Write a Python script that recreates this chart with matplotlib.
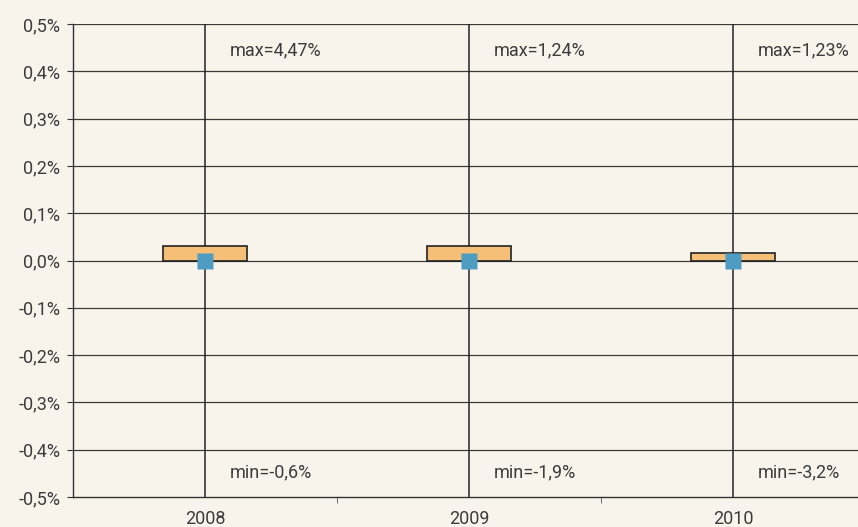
import matplotlib.pyplot as plt
from matplotlib.ticker import FuncFormatter, FixedLocator

# yearly spread stats, in percent
years = ["2008", "2009", "2010"]
bar_vals = [0.03, 0.03, 0.015]
mean_vals = [0.0, 0.0, 0.0]
max_vals = [4.47, 1.24, 1.23]
min_vals = [-0.6, -1.9, -3.2]
max_labels = ["max=4,47%", "max=1,24%", "max=1,23%"]
min_labels = ["min=-0,6%", "min=-1,9%", "min=-3,2%"]

bg = "#f8f4ec"
txt = "#3c3c3c"
plt.rcParams['font.family'] = ['Roboto', 'DejaVu Sans']

fig = plt.figure(figsize=(8.58, 5.27), dpi=100, facecolor=bg)
ax = fig.add_axes([73 / 858, 30 / 527, 792 / 858, 473 / 527])
ax.set_facecolor(bg)

x = list(range(len(years)))

# horizontal grid
for v in [i / 10 for i in range(-4, 6)]:
    ax.axhline(v, color="#3a3a3a", lw=0.9, zorder=1)

# min-max whiskers
ax.vlines(x, min_vals, max_vals, color="#222222", lw=1.1, zorder=2)

ax.bar(x, bar_vals, width=0.315, color="#f5bf77", edgecolor="#222222",
       linewidth=1.2, zorder=3)
ax.plot(x, mean_vals, ls="none", marker="s", ms=12.2, color="#4e9cc1",
        mec="none", zorder=4)

for xi, mx, mn in zip(x, max_labels, min_labels):
    ax.text(xi + 0.094, 0.445, mx, fontsize=13, color=txt,
            va="center", ha="left", zorder=5)
    ax.text(xi + 0.094, -0.447, mn, fontsize=13, color=txt,
            va="center", ha="left", zorder=5)

ax.set_xlim(-0.5, 2.5)
ax.set_ylim(-0.5, 0.5)
ax.set_yticks([i / 10 for i in range(-5, 6)])
ax.yaxis.set_major_formatter(FuncFormatter(lambda v, p: f"{v:.1f}%".replace(".", ",")))
ax.set_xticks(x)
ax.set_xticklabels(years)
ax.xaxis.set_minor_locator(FixedLocator([0.5, 1.5]))
ax.tick_params(axis="x", which="major", length=0, pad=9, labelsize=13, labelcolor=txt)
ax.tick_params(axis="x", which="minor", length=4, color="#555555", direction="out")
ax.tick_params(axis="y", length=4, color="#333333", labelsize=13, labelcolor=txt, pad=5)

for s in ["top", "right"]:
    ax.spines[s].set_visible(False)
ax.spines["left"].set_color("#333333")
ax.spines["bottom"].set_color("#333333")
ax.spines["left"].set_linewidth(1.0)
ax.spines["bottom"].set_linewidth(1.0)

fig.savefig("out.png", dpi=100, facecolor=bg)
